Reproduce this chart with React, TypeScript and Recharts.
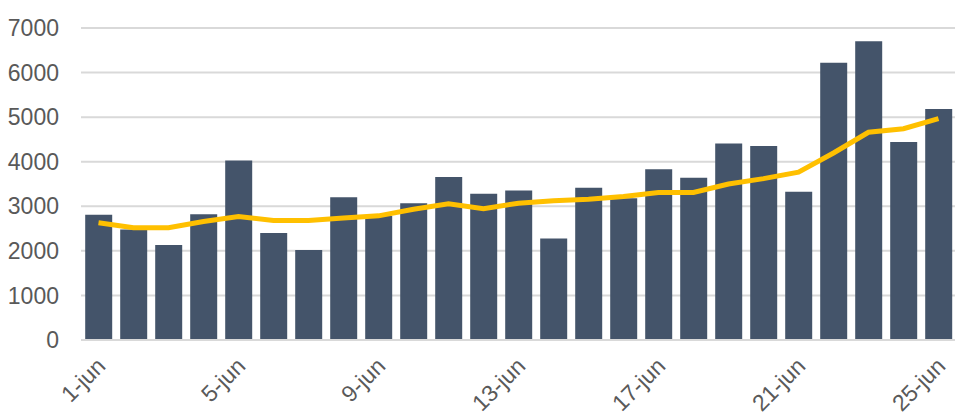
import React from "react";
import { ComposedChart, Bar, Line, XAxis, YAxis, CartesianGrid } from "recharts";

const days = [
  "1-jun", "2-jun", "3-jun", "4-jun", "5-jun", "6-jun", "7-jun", "8-jun", "9-jun",
  "10-jun", "11-jun", "12-jun", "13-jun", "14-jun", "15-jun", "16-jun", "17-jun",
  "18-jun", "19-jun", "20-jun", "21-jun", "22-jun", "23-jun", "24-jun", "25-jun",
];

const daily = [
  2810, 2480, 2130, 2820, 4030, 2400, 2020, 3200, 2780, 3070, 3655, 3280, 3355,
  2280, 3415, 3180, 3830, 3640, 4410, 4350, 3325, 6220, 6705, 4440, 5180,
];

const average = [
  2630, 2520, 2520, 2660, 2770, 2680, 2680, 2735, 2785, 2935, 3055, 2945, 3070,
  3125, 3160, 3220, 3310, 3310, 3500, 3620, 3765, 4195, 4660, 4740, 4965,
];

const yTicks = [0, 1000, 2000, 3000, 4000, 5000, 6000, 7000];

const data = days.map((day, i) => ({ day, daily: daily[i], average: average[i] }));

const FONT = "'Liberation Sans', Arial, sans-serif";
const GRAY = "#595959";

// rotated date label, text ends at the tick
function DayTick(props: any) {
  const { x, y, payload } = props;
  return (
    <g transform={`translate(${x - 3},${y + 8})`}>
      <text
        textAnchor="end"
        transform="rotate(-45)"
        fill={GRAY}
        fontSize={23}
        fontFamily={FONT}
        dy="0.7em"
      >
        {payload.value}
      </text>
    </g>
  );
}

export default function App() {
  return (
    <div style={{ position: "absolute", left: 0, top: 0, width: 955, height: 414, overflow: "hidden", background: "#fff" }}>
      <ComposedChart
        width={960}
        height={414}
        data={data}
        margin={{ top: 28, right: 4, bottom: 0, left: 0 }}
        barCategoryGap="12%"
      >
        <CartesianGrid vertical={false} stroke="#D9D9D9" strokeWidth={2} />
        <XAxis
          dataKey="day"
          interval={3}
          tickLine={false}
          axisLine={{ stroke: "#D9D9D9", strokeWidth: 2 }}
          tick={<DayTick />}
          height={74}
        />
        <YAxis
          domain={[0, 7000]}
          ticks={yTicks}
          width={81}
          axisLine={false}
          tickLine={false}
          tickMargin={16}
          tick={{ fill: GRAY, fontSize: 23, fontFamily: FONT }}
        />
        <Bar dataKey="daily" fill="#44546A" isAnimationActive={false} />
        <Line
          dataKey="average"
          type="linear"
          stroke="#FFC000"
          strokeWidth={5}
          dot={false}
          isAnimationActive={false}
        />
      </ComposedChart>
    </div>
  );
}
